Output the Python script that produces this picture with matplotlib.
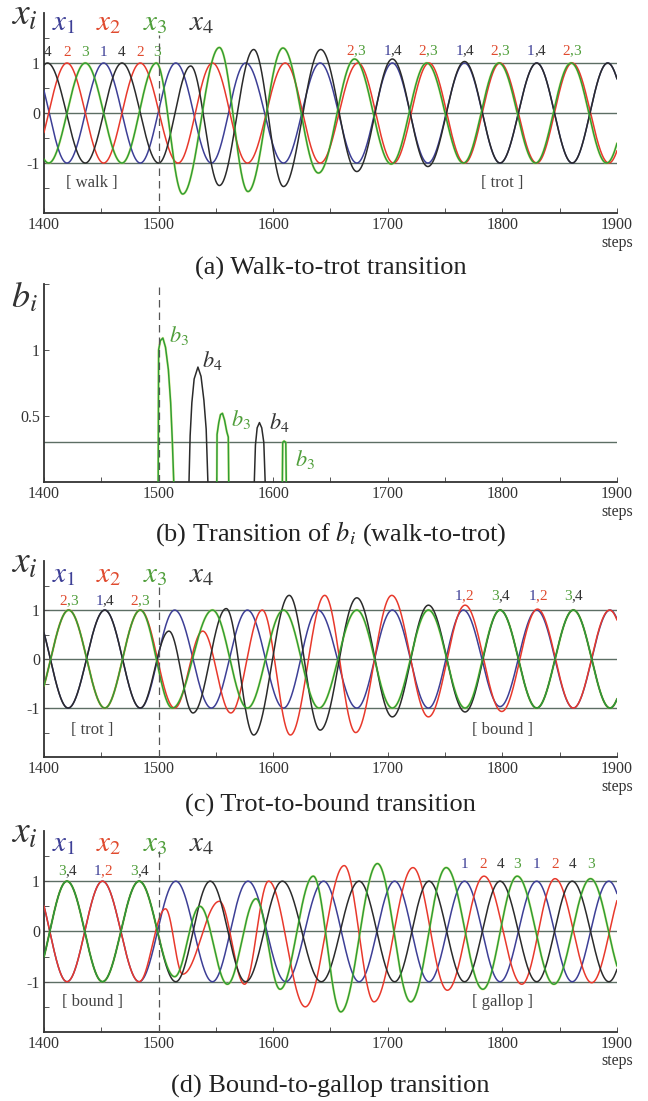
import numpy as np
import matplotlib
matplotlib.use('Agg')
import matplotlib.pyplot as plt
from matplotlib import transforms

plt.rcParams['font.family'] = ['Liberation Serif', 'DejaVu Serif']
plt.rcParams['mathtext.fontset'] = 'stix'

# ---------------- data (extrema of each oscillator trace: step, value) ----------------
# (a) walk-to-trot
A_X1_T = [1389, 1420, 1452, 1484, 1515, 1546, 1576, 1609, 1641, 1673, 1704, 1735, 1767, 1798, 1830, 1861, 1892, 1923]
A_X1_V = [1, -1, 1, -1, 1, -1, 1, -1, 1, -1, 1, -1, 1, -1, 1, -1, 1, -1]
A_X2_T = [1388, 1420, 1452, 1484, 1517, 1547, 1577.5, 1610.5, 1641, 1674, 1705, 1736, 1767, 1798, 1830, 1861, 1893, 1924]
A_X2_V = [-1, 1, -1, 1, -1, 1, -1, 1, -1, 1, -1, 1, -1, 1, -1, 1, -1, 1]
A_X3_T = [1372, 1404, 1436, 1468, 1498, 1521, 1553, 1578, 1608.5, 1639.5, 1671, 1703, 1734, 1766, 1797, 1829, 1860, 1891, 1922]
A_X3_V = [1, -1, 1, -1, 1, -1.62, 1.31, -1.57, 1.30, -1.20, 1.08, -1.02, 1.0, -1, 1, -1, 1, -1, 1]
A_X4_T = [1371, 1403, 1436, 1468, 1500, 1528, 1553, 1583, 1609, 1641.5, 1673, 1704, 1735, 1767, 1798, 1830, 1861, 1892, 1923]
A_X4_V = [-1, 1, -1, 1, -1, 0.94, -1.45, 1.27, -1.47, 1.27, -1.17, 1.08, -1.07, 1.03, -1.0, 1, -1, 1, -1]

# (b) b_i bumps (None separates bumps)
B3_T = [1499.6, 1500, 1501.5, 1503.7, 1506, 1508.5, 1510.5, 1512, 1513.2, None,
        1550.8, 1551, 1552.5, 1554, 1555.7, 1557.5, 1559.5, 1560.8, 1561.2, None,
        1608, 1608.3, 1609.5, 1611, 1611.4]
B3_V = [0, 1.0, 1.07, 1.09, 1.02, 0.85, 0.6, 0.3, 0, None,
        0, 0.36, 0.45, 0.51, 0.52, 0.47, 0.38, 0.34, 0, None,
        0, 0.30, 0.31, 0.30, 0]
B4_T = [1526.5, 1527.5, 1529, 1531, 1534.3, 1537, 1539.5, 1541.5, 1543, None,
        1583.5, 1584.5, 1586, 1588, 1590, 1591.8, 1593]
B4_V = [0, 0.35, 0.6, 0.78, 0.87, 0.8, 0.62, 0.4, 0, None,
        0, 0.28, 0.41, 0.45, 0.41, 0.30, 0]
B_THRESH = 0.30

# (c) trot-to-bound
C_X1_T = [1390, 1421, 1453, 1484, 1514, 1546, 1577.5, 1609, 1639, 1673, 1704, 1735.5, 1766, 1798, 1830, 1862, 1894, 1925]
C_X1_V = [1, -1, 1, -1, 1, -1, 1, -1, 1, -1, 1, -1, 1, -0.97, 1, -1, 1, -1]
C_X2_T = [1390, 1421.5, 1453, 1484, 1514, 1538.5, 1563, 1590.5, 1615, 1645, 1672, 1703.5, 1735.5, 1767.5, 1799.5, 1830.7, 1862, 1893.6, 1925]
C_X2_V = [-1, 1, -1, 1, -1.0, 0.57, -1.1, 1.0, -1.55, 1.3, -1.5, 1.3, -1.18, 1.1, -1.07, 1.02, -1.0, 1.0, -1]
C_X3_T = [1390, 1421.5, 1453, 1484, 1512, 1547, 1577.5, 1609, 1640, 1673, 1704, 1735.5, 1767.5, 1798, 1830, 1862, 1894, 1925]
C_X3_V = [-1, 1, -1, 1, -1.0, 1.0, -1.0, 1.0, -1.0, 1.0, -1.0, 1.0, -1.0, 1.0, -1, 1, -1, 1]
C_X4_T = [1390, 1421, 1453, 1484, 1509, 1530, 1559, 1583, 1614, 1641, 1673, 1704, 1735.5, 1767.5, 1798, 1830, 1862, 1894, 1925]
C_X4_V = [1, -1, 1, -1, 0.57, -1.1, 1.03, -1.55, 1.3, -1.45, 1.25, -1.18, 1.1, -1.08, 1.0, -1, 1, -1, 1]

# (d) bound-to-gallop
D_X1_T = [1390, 1420, 1451, 1483, 1515, 1547, 1578, 1611, 1644, 1675, 1706, 1736, 1767, 1798, 1830, 1861, 1893, 1924]
D_X1_V = [1, -1, 1, -1, 1, -1, 1, -1, 1, -1, 1, -1, 1, -1, 1, -1, 1, -1]
D_X2_T = [1390, 1420, 1451, 1483, 1506, 1521, 1553, 1575, 1596, 1628, 1662, 1688, 1722, 1752, 1784, 1817, 1846, 1878, 1909]
D_X2_V = [1, -1, 1, -1, 0.45, -0.85, 0.6, -1.05, 1.0, -1.5, 1.31, -1.4, 1.27, -1.17, 1.1, -1.05, 1.05, -1.02, 1]
D_X3_T = [1390, 1420, 1451, 1483, 1514, 1536, 1560, 1585, 1606, 1635, 1659, 1691, 1720, 1751, 1783, 1813, 1845, 1877, 1908]
D_X3_V = [-1, 1, -1, 1, -0.9, 0.5, -1.05, 0.65, -1.15, 1.1, -1.6, 1.35, -1.4, 1.27, -1.15, 1.1, -1.05, 1.05, -1]
D_X4_T = [1390, 1420, 1451, 1483, 1515, 1545, 1576, 1608, 1642, 1675, 1706, 1736, 1767, 1798, 1830, 1861, 1893, 1924]
D_X4_V = [-1, 1, -1, 1, -1, 1, -1, 1, -1, 1, -1, 1, -1, 1, -1, 1, -1, 1]

# peak annotations
A_WALK_POS = [1403, 1420, 1436, 1452, 1468, 1484, 1499]
A_WALK_LAB = ['4', '2', '3', '1', '4', '2', '3']
A_TROT_POS = [1672, 1704, 1735, 1767, 1797.5, 1829.5, 1860.7]
A_TROT_LAB = ['2,3', '1,4', '2,3', '1,4', '2,3', '1,4', '2,3']
C_LEFT_POS = [1421, 1452.5, 1483.5]
C_LEFT_LAB = ['2,3', '1,4', '2,3']
C_RIGHT_POS = [1766, 1798, 1831, 1862]
C_RIGHT_LAB = ['1,2', '3,4', '1,2', '3,4']
D_LEFT_POS = [1420, 1451, 1483]
D_LEFT_LAB = ['3,4', '1,2', '3,4']
D_RIGHT_POS = [1767, 1783, 1798.5, 1813, 1830, 1846, 1861, 1877]
D_RIGHT_LAB = ['1', '2', '4', '3', '1', '2', '4', '3']

X_TICKS = [1400, 1500, 1600, 1700, 1800, 1900]

# ---------------- style ----------------
COL = {'1': '#3d3f96', '2': '#e8392c', '3': '#2f9e35', '4': '#2b2b2b'}
TXT = {'1': '#3d3f96', '2': '#e04a2e', '3': '#4f9e3a', '4': '#333333'}
YEL = '#d6e35a'
GRID = '#5c6e64'

fig = plt.figure(figsize=(6.48, 11.01), dpi=100)


def smooth(tp, vp):
    t = np.linspace(1380, 1930, 4000)
    y = np.full_like(t, np.nan)
    tp = np.asarray(tp, float)
    vp = np.asarray(vp, float)
    for i in range(len(tp) - 1):
        m = (t >= tp[i]) & (t <= tp[i + 1])
        f = (t[m] - tp[i]) / (tp[i + 1] - tp[i])
        y[m] = vp[i] + (vp[i + 1] - vp[i]) * (1 - np.cos(np.pi * f)) / 2
    return t, y


def style(ax, ylim, yticks, ylabels):
    ax.set_xlim(1400, 1900)
    ax.set_ylim(*ylim)
    for s in ['top', 'right']:
        ax.spines[s].set_visible(False)
    for s in ['left', 'bottom']:
        ax.spines[s].set_color('#333333')
        ax.spines[s].set_linewidth(1.3)
    ax.set_xticks(X_TICKS)
    ax.set_xticklabels([str(v) for v in X_TICKS])
    ax.set_xticks([1450, 1550, 1650, 1750, 1850], minor=True)
    ax.set_yticks(yticks)
    ax.set_yticklabels(ylabels)
    ax.tick_params(which='both', direction='in', length=3.5, width=0.7,
                   color='#555555', labelcolor='#333333', labelsize=11.5, pad=3)
    ax.annotate('steps', xy=(1900, 0), xycoords=('data', 'axes fraction'),
                xytext=(0, -15.5), textcoords='offset points', ha='center', va='top',
                fontsize=11.5, color='#333333', annotation_clip=False)


def pair(ax, x, y, lab, fs=11):
    if ',' not in lab:
        ax.text(x, y, lab, color=TXT[lab], ha='center', va='baseline', fontsize=fs)
        return
    a, b = lab.split(',')
    tl = transforms.offset_copy(ax.transData, fig=fig, x=-1.0, units='points')
    tr = transforms.offset_copy(ax.transData, fig=fig, x=1.2, units='points')
    ax.text(x, y, a, color=TXT[a], ha='right', va='baseline', fontsize=fs, transform=tl)
    ax.text(x, y, ',', color=TXT[b], ha='center', va='baseline', fontsize=fs)
    ax.text(x, y, b, color=TXT[b], ha='left', va='baseline', fontsize=fs, transform=tr)


def osc_panel(ax, traces, names_y, left_pos, left_lab, left_y, right_pos, right_lab, right_y,
              gait_l, gait_r, gait_y, dash_top):
    style(ax, (-2, 2), [-1.5, -1, -0.5, 0, 0.5, 1, 1.5], ['', '-1', '', '0', '', '1', ''])
    for yv in (-1, 0, 1):
        ax.axhline(yv, color=GRID, lw=1.0, zorder=1)
    order = ['1', '2', '4', '3']
    for k in order:
        tp, vp = traces[k]
        t, y = smooth(tp, vp)
        if k == '3':
            ax.plot(t, y, color=YEL, lw=1.8, zorder=2, alpha=0.55)
        ax.plot(t, y, color=COL[k], lw=1.1, zorder=3)
    ax.plot([1500, 1500], [-2, dash_top], color='#555555', lw=0.9, ls=(0, (6, 4)), zorder=4)
    for k, xpos in zip(['1', '2', '3', '4'], [1417, 1456, 1497, 1538]):
        ax.text(xpos, names_y, r'$x_{%s}$' % k, color=TXT[k] if k != '4' else '#3a3a3a',
                fontsize=21, ha='center', va='center')
    for p, l in zip(left_pos, left_lab):
        pair(ax, p, left_y, l)
    for p, l in zip(right_pos, right_lab):
        pair(ax, p, right_y, l)
    ax.text(1442, gait_y, gait_l, ha='center', va='center', fontsize=12, color='#444444')
    ax.text(1800, gait_y, gait_r, ha='center', va='center', fontsize=12, color='#444444')
    ax.text(-0.035, 0.985, r'$x_i$', transform=ax.transAxes, fontsize=27,
            ha='center', va='center', color='#333333')


L, W = 0.068, 0.884
ax_a = fig.add_axes([L, 0.8065, W, 0.1817])
ax_b = fig.add_axes([L, 0.5622, W, 0.1800])
ax_c = fig.add_axes([L, 0.3124, W, 0.1780])
ax_d = fig.add_axes([L, 0.0627, W, 0.1826])

osc_panel(ax_a, {'1': (A_X1_T, A_X1_V), '2': (A_X2_T, A_X2_V), '3': (A_X3_T, A_X3_V), '4': (A_X4_T, A_X4_V)},
          1.79, A_WALK_POS, A_WALK_LAB, 1.15, A_TROT_POS, A_TROT_LAB, 1.17,
          '[ walk ]', '[ trot ]', -1.39, 1.55)
osc_panel(ax_c, {'1': (C_X1_T, C_X1_V), '2': (C_X2_T, C_X2_V), '3': (C_X3_T, C_X3_V), '4': (C_X4_T, C_X4_V)},
          1.72, C_LEFT_POS, C_LEFT_LAB, 1.11, C_RIGHT_POS, C_RIGHT_LAB, 1.21,
          '[ trot ]', '[ bound ]', -1.44, 1.52)
osc_panel(ax_d, {'1': (D_X1_T, D_X1_V), '2': (D_X2_T, D_X2_V), '3': (D_X3_T, D_X3_V), '4': (D_X4_T, D_X4_V)},
          1.73, D_LEFT_POS, D_LEFT_LAB, 1.12, D_RIGHT_POS, D_RIGHT_LAB, 1.26,
          '[ bound ]', '[ gallop ]', -1.41, 1.6)

# panel b
style(ax_b, (0, 1.5), [0.5, 1.0, 1.5], ['0.5', '1', ''])
ax_b.axhline(B_THRESH, color=GRID, lw=1.0, zorder=1)
b3t = np.array([np.nan if v is None else v for v in B3_T], float)
b3v = np.array([np.nan if v is None else v for v in B3_V], float)
b4t = np.array([np.nan if v is None else v for v in B4_T], float)
b4v = np.array([np.nan if v is None else v for v in B4_V], float)
ax_b.plot(b3t, b3v, color=YEL, lw=1.8, alpha=0.55, zorder=2)
ax_b.plot(b3t, b3v, color=COL['3'], lw=1.1, zorder=3)
ax_b.plot(b4t, b4v, color=COL['4'], lw=1.1, zorder=3)
ax_b.plot([1500, 1500], [0, 1.5], color='#555555', lw=0.9, ls=(0, (6, 4)), zorder=4)
for (xt, yt, lab, c) in [(1509, 1.11, '3', '3'), (1537.5, 0.92, '4', '4'), (1563, 0.47, '3', '3'),
                         (1596, 0.45, '4', '4'), (1619, 0.17, '3', '3')]:
    ax_b.text(xt, yt, r'$b_{%s}$' % lab, color=TXT[c], fontsize=16, ha='left', va='center')
ax_b.text(-0.035, 0.925, r'$b_i$', transform=ax_b.transAxes, fontsize=26,
          ha='center', va='center', color='#333333')

# captions
cap = dict(ha='center', va='center', fontsize=19, color='#222222')
fig.text(0.51, 1 - 268 / 1101, '(a) Walk-to-trot transition', **cap)
fig.text(0.51, 1 - 534 / 1101, r'(b) Transition of $b_i$ (walk-to-trot)', **cap)
fig.text(0.51, 1 - 805 / 1101, '(c) Trot-to-bound transition', **cap)
fig.text(0.51, 1 - 1086 / 1101, '(d) Bound-to-gallop transition', **cap)

fig.savefig('out.png', dpi=100)
